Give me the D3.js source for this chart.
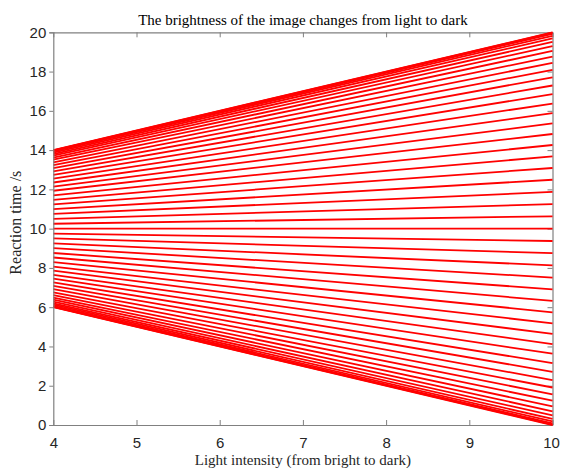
<!DOCTYPE html>
<html>
<head>
<meta charset="utf-8">
<script src="https://cdn.jsdelivr.net/npm/d3@7"></script>
<style>
  html, body { margin: 0; padding: 0; background: #fff; }
  svg { display: block; }
</style>
</head>
<body>
<svg id="chart" width="561" height="468"></svg>
<script>
// Light intensity range covered by every line
const xStart = 4;
const xEnd = 10;

// Reaction time at the bright end (x = 4) for each line
const startTimes = [
  6.00, 6.01, 6.03, 6.07, 6.13, 6.20, 6.28, 6.38, 6.49, 6.62,
  6.76, 6.92, 7.08, 7.26, 7.45, 7.65, 7.86, 8.07, 8.30, 8.53,
  8.76, 9.01, 9.25, 9.50, 9.75, 10.00, 10.25, 10.50, 10.75, 10.99,
  11.24, 11.47, 11.70, 11.93, 12.14, 12.35, 12.55, 12.74, 12.92, 13.08,
  13.24, 13.38, 13.51, 13.62, 13.72, 13.80, 13.87, 13.93, 13.97, 13.99,
  14.00
];

// Reaction time at the dark end (x = 10) for each line
const endTimes = [
  0.00, 0.02, 0.08, 0.18, 0.31, 0.49, 0.70, 0.95, 1.24, 1.56,
  1.91, 2.29, 2.71, 3.15, 3.63, 4.12, 4.64, 5.18, 5.74, 6.32,
  6.91, 7.51, 8.13, 8.75, 9.37, 10.00, 10.63, 11.25, 11.87, 12.49,
  13.09, 13.68, 14.26, 14.82, 15.36, 15.88, 16.37, 16.85, 17.29, 17.71,
  18.09, 18.44, 18.76, 19.05, 19.30, 19.51, 19.69, 19.82, 19.92, 19.98,
  20.00
];

// Axis ticks
const xTicks = [4, 5, 6, 7, 8, 9, 10];
const yTicks = [0, 2, 4, 6, 8, 10, 12, 14, 16, 18, 20];

const titleText = "The brightness of the image changes from light to dark";
const xLabelText = "Light intensity (from bright to dark)";
const yLabelText = "Reaction time /s";

const plot = { left: 53.3, right: 552.5, top: 32.3, bottom: 425 };
const axisGray = "#808080";
const textDark = "#262626";
const intFormat = d3.format("d");

const svg = d3.select("#chart");

const x = d3.scaleLinear().domain([4, 10]).range([plot.left, plot.right]);
const y = d3.scaleLinear().domain([0, 20]).range([plot.bottom, plot.top]);

// Box: top and right edges with inward ticks
const topAxis = svg.append("g")
  .attr("transform", `translate(0,${plot.top})`)
  .call(d3.axisTop(x).tickValues(xTicks).tickSizeInner(-5).tickSizeOuter(0).tickFormat(""));
const rightAxis = svg.append("g")
  .attr("transform", `translate(${plot.right},0)`)
  .call(d3.axisRight(y).tickValues(yTicks).tickSizeInner(-5).tickSizeOuter(0).tickFormat(""));

// Bottom axis with inward ticks and labels
const bottomAxis = svg.append("g")
  .attr("transform", `translate(0,${plot.bottom})`)
  .call(d3.axisBottom(x).tickValues(xTicks).tickSizeInner(-5).tickSizeOuter(0)
    .tickPadding(12).tickFormat(intFormat));

// Reaction-time lines
const lineData = startTimes.map((s, i) => [[xStart, s], [xEnd, endTimes[i]]]);
const line = d3.line().x(d => x(d[0])).y(d => y(d[1]));
svg.append("g")
  .selectAll("path")
  .data(lineData)
  .join("path")
  .attr("d", line)
  .attr("fill", "none")
  .attr("stroke", "#ff0000")
  .attr("stroke-width", 1.8);

// Left axis with outward ticks, drawn on top of the lines
const leftAxis = svg.append("g")
  .attr("transform", `translate(${plot.left},0)`)
  .call(d3.axisLeft(y).tickValues(yTicks).tickSize(4).tickPadding(3).tickFormat(intFormat));

[topAxis, rightAxis, bottomAxis, leftAxis].forEach(g => {
  g.select(".domain").attr("stroke", axisGray).attr("stroke-width", 1.2);
  g.selectAll(".tick line").attr("stroke", axisGray).attr("stroke-width", 1);
  g.selectAll(".tick text")
    .attr("fill", textDark)
    .style("font-family", "'Liberation Sans', Arial, sans-serif")
    .style("font-size", "15px");
});

// Keep the last x label inside the page edge
bottomAxis.selectAll(".tick text")
  .filter(d => d === 10)
  .attr("dx", "-1.5px");

// Title
svg.append("text")
  .attr("x", (plot.left + plot.right) / 2)
  .attr("y", 25)
  .attr("text-anchor", "middle")
  .style("font-family", "'Liberation Serif', 'Times New Roman', serif")
  .style("font-size", "15px")
  .attr("fill", "#000")
  .text(titleText);

// X axis label
svg.append("text")
  .attr("x", (plot.left + plot.right) / 2)
  .attr("y", 465)
  .attr("text-anchor", "middle")
  .style("font-family", "'Liberation Serif', 'Times New Roman', serif")
  .style("font-size", "15px")
  .attr("fill", textDark)
  .text(xLabelText);

// Y axis label
svg.append("text")
  .attr("transform", `translate(21,${(plot.top + plot.bottom) / 2 - 6}) rotate(-90)`)
  .attr("text-anchor", "middle")
  .style("font-family", "'Liberation Serif', 'Times New Roman', serif")
  .style("font-size", "16px")
  .attr("fill", textDark)
  .text(yLabelText);
</script>
</body>
</html>
